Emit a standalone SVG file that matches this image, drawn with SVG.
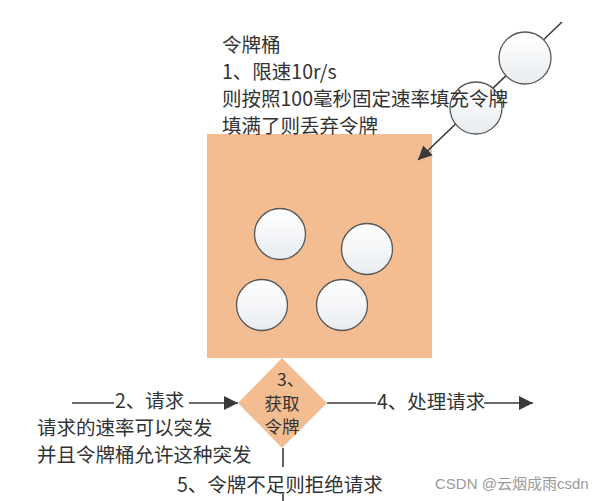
<svg xmlns="http://www.w3.org/2000/svg" width="606" height="501" viewBox="0 0 606 501">
<style>
.t{font-family:"Noto Sans CJK SC","Liberation Sans",sans-serif;font-size:19.5px;fill:#333}
.d{font-family:"Noto Sans CJK SC","Liberation Sans",sans-serif;font-size:17.5px;fill:#333}
.ln{stroke:#3a3a3a;stroke-width:1.6;fill:none}
.tok{fill:url(#g);stroke:#555;stroke-width:1.3}
.peach{fill:#F3BD91}
.wm{font-family:"Liberation Sans","Noto Sans CJK SC",sans-serif;font-size:15px;fill:#9a9a9a}
</style>
<defs>
<linearGradient id="g" x1="0" y1="0" x2="0" y2="1">
<stop offset="0" stop-color="#ffffff"/>
<stop offset="1" stop-color="#e8ecf0"/>
</linearGradient>
<marker id="ah" viewBox="0 0 10 10" refX="10" refY="5" markerWidth="14" markerHeight="14" markerUnits="userSpaceOnUse" orient="auto">
<path d="M0,0 L10,5 L0,10 Z" fill="#3a3a3a"/>
</marker>
</defs>
<rect width="606" height="501" fill="#fff"/>

<g id="bucket">
<rect class="peach" x="207" y="134" width="225" height="224"/>
<circle class="tok" cx="280" cy="234" r="25.5"/>
<circle class="tok" cx="367" cy="249" r="25.5"/>
<circle class="tok" cx="262" cy="305" r="25.5"/>
<circle class="tok" cx="342" cy="305" r="25.5"/>
</g>

<g id="get-token">
<polygon class="peach" points="282,358 327,403 282,448 238,403"/>
<text class="d" x="277" y="386">3、</text>
<text class="d" x="282" y="409.5" text-anchor="middle">获取</text>
<text class="d" x="282" y="433" text-anchor="middle">令牌</text>
</g>

<g id="connectors">
<line class="ln" x1="562" y1="22" x2="418" y2="160" marker-end="url(#ah)"/>
<line class="ln" x1="72" y1="403" x2="114" y2="403"/>
<line class="ln" x1="189" y1="403" x2="238" y2="403" marker-end="url(#ah)"/>
<line class="ln" x1="327" y1="403" x2="376" y2="403"/>
<line class="ln" x1="484" y1="403" x2="533" y2="403" marker-end="url(#ah)"/>
<line class="ln" x1="283" y1="448" x2="283" y2="467"/>
<line class="ln" x1="283" y1="494" x2="283" y2="501"/>
</g>

<g id="incoming-tokens">
<circle class="tok" cx="525" cy="58" r="26"/>
<circle class="tok" cx="476" cy="108" r="26"/>
</g>

<g id="bucket-label">
<text class="t" x="222" y="52">令牌桶</text>
<text class="t" x="222" y="79">1、限速10r/s</text>
<text class="t" x="222" y="106">则按照100毫秒固定速率填充令牌</text>
<text class="t" x="222" y="133">填满了则丢弃令牌</text>
</g>

<g id="request-label">
<text class="t" x="115" y="408">2、请求</text>
<text class="t" x="37" y="435">请求的速率可以突发</text>
<text class="t" x="37" y="462">并且令牌桶允许这种突发</text>
</g>

<g id="process-label">
<text class="t" x="377" y="409">4、处理请求</text>
</g>

<g id="reject-label">
<text class="t" x="177" y="492">5、令牌不足则拒绝请求</text>
</g>

<text class="wm" x="435" y="489">CSDN @云烟成雨csdn</text>
</svg>
